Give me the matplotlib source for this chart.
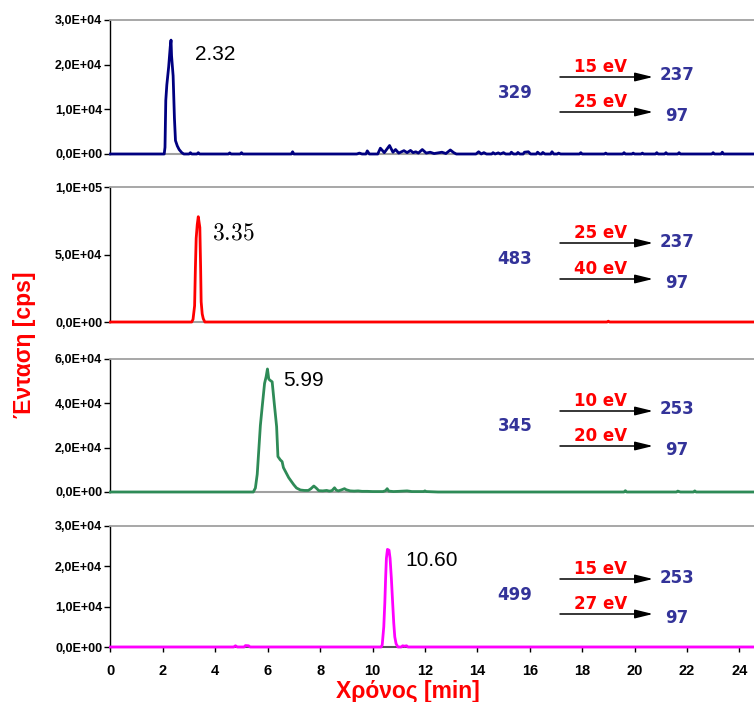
import matplotlib
matplotlib.use('Agg')
import matplotlib.pyplot as plt
from matplotlib.patches import FancyArrowPatch
from matplotlib.ticker import FuncFormatter, FixedLocator

plt.rcParams['font.family'] = ['Liberation Sans', 'DejaVu Sans']
plt.rcParams['mathtext.fontset'] = 'cm'

W, H = 754, 702

# χρωματογράμματα MRM (χρόνος σε min, ένταση σε cps)
t_329 = [0.0, 2.05, 2.08, 2.11, 2.15, 2.22, 2.28, 2.31, 2.33, 2.39, 2.44, 2.48, 2.55, 2.62, 2.72, 2.80,
         3.00, 3.05, 3.10, 3.30, 3.35, 3.40, 4.50, 4.55, 4.60, 4.95, 5.00, 5.05,
         6.90, 6.95, 7.00,
         9.40, 9.50, 9.60, 9.75, 9.80, 9.88, 10.20, 10.30, 10.45, 10.65, 10.78, 10.88, 11.00,
         11.20, 11.32, 11.45, 11.55, 11.65, 11.75, 11.90, 12.05, 12.20, 12.35, 12.65, 12.80,
         12.97, 13.10, 13.20,
         13.95, 14.05, 14.15, 14.25, 14.35, 14.55, 14.60, 14.68, 14.80, 14.88, 15.00, 15.08,
         15.25, 15.30, 15.38, 15.50, 15.55, 15.62, 15.75, 15.80, 15.95, 16.03,
         16.25, 16.30, 16.38, 16.45, 16.50, 16.58, 16.80, 16.85, 16.92, 17.05, 17.10, 17.18,
         17.90, 17.95, 18.00, 18.85, 18.90, 18.95, 19.55, 19.60, 19.65, 19.90, 19.95, 20.00,
         20.25, 20.30, 20.35, 20.80, 20.85, 20.90, 21.15, 21.20, 21.25, 21.65, 21.70, 21.75,
         22.95, 23.00, 23.05, 23.30, 23.35, 23.40, 24.6]
i_329 = [0, 0, 1500, 12000, 15500, 19500, 24000, 25500, 22000, 17500, 8000, 3000, 1800, 1000, 300, 0,
         0, 300, 0, 0, 300, 0, 0, 250, 0, 0, 300, 0,
         0, 500, 0,
         0, 200, 0, 0, 700, 0, 0, 1300, 300, 1900, 400, 1000, 200,
         750, 300, 800, 300, 500, 200, 1000, 200, 400, 100, 400, 100,
         900, 300, 0,
         0, 500, 0, 300, 0, 0, 300, 0, 250, 0, 300, 0,
         0, 400, 0, 0, 350, 0, 0, 400, 500, 0,
         0, 400, 0, 0, 350, 0, 0, 500, 0, 0, 200, 0,
         0, 300, 0, 0, 200, 0, 0, 300, 0, 0, 200, 0,
         0, 200, 0, 0, 300, 0, 0, 300, 0, 0, 300, 0,
         0, 300, 0, 0, 400, 0, 0]

t_483 = [0.0, 3.10, 3.15, 3.21, 3.24, 3.27, 3.31, 3.35, 3.38, 3.41, 3.44, 3.46, 3.50, 3.54, 3.60,
         18.95, 19.00, 19.05, 24.6]
i_483 = [0, 0, 2000, 12000, 40000, 62000, 72000, 78000, 74000, 70000, 40000, 15000, 6000, 2500, 0,
         0, 600, 0, 0]

t_345 = [0.0, 5.45, 5.53, 5.60, 5.66, 5.72, 5.79, 5.88, 5.94, 5.99, 6.04, 6.08, 6.17, 6.25, 6.34,
         6.39, 6.48, 6.55, 6.60, 6.68, 6.80, 6.92, 7.00, 7.10, 7.25, 7.40, 7.55, 7.65, 7.76, 7.85,
         7.95, 8.10, 8.25, 8.35, 8.45, 8.55, 8.62, 8.70, 8.80, 8.93, 9.00, 9.15, 9.30, 9.45, 9.60,
         9.80, 10.00, 10.40, 10.50, 10.56, 10.62, 10.80, 11.00, 11.32, 11.50, 11.95, 12.00, 12.05,
         12.50, 19.60, 19.65, 19.70, 21.60, 21.65, 21.75, 22.25, 22.30, 22.35, 24.6]
i_345 = [0, 0, 1800, 8000, 19000, 30000, 38500, 49000, 52000, 55500, 51000, 50500, 49700, 40000, 29500,
         16000, 14500, 13700, 11000, 9200, 6500, 4500, 3200, 1800, 900, 700, 700, 1500, 2700, 1800,
         600, 500, 700, 400, 600, 1900, 800, 500, 900, 1500, 1000, 500, 400, 500, 300,
         300, 200, 200, 600, 1500, 400, 200, 300, 500, 200, 200, 500, 200,
         0, 0, 600, 0, 0, 400, 0, 0, 500, 0, 0]

t_499 = [0.0, 4.70, 4.77, 4.84, 5.10, 5.15, 5.27, 5.33, 10.33, 10.37, 10.43, 10.47, 10.50, 10.53,
         10.57, 10.63, 10.67, 10.72, 10.76, 10.81, 10.85, 10.90, 10.97, 11.10, 11.15, 11.22, 11.30,
         11.35, 24.6]
i_499 = [0, 0, 300, 0, 0, 350, 300, 0, 0, 500, 5000, 11000, 17000, 22000,
         24200, 24000, 22000, 17000, 12000, 6000, 2500, 800, 0, 0, 300, 200, 300,
         0, 0]

traces = [(t_329, i_329), (t_483, i_483), (t_345, i_345), (t_499, i_499)]
colors = ['#000080', '#ff0000', '#2e8b57', '#ff00ff']
y_max = [30000, 100000, 60000, 30000]
y_ticks = [[0, 10000, 20000, 30000], [0, 50000, 100000],
           [0, 20000, 40000, 60000], [0, 10000, 20000, 30000]]
x_ticks = list(range(0, 25, 2))

peak_labels = ['2.32', r'$3.35$', '5.99', '10.60']
parents = ['329', '483', '345', '499']
energies = [('15 eV', '25 eV'), ('25 eV', '40 eV'), ('10 eV', '20 eV'), ('15 eV', '27 eV')]
products = [('237', '97'), ('237', '97'), ('253', '97'), ('253', '97')]

# θέσεις σε pixels (πάνω, κάτω όριο κάθε γραφήματος)
panel_px = [(20, 154), (187, 322), (359, 492), (526, 647)]
peak_px = [(195, 54), (212, 233), (283, 381), (405, 561)]
parent_y = [93, 259, 426, 595]
arrow_y = [(77, 112), (243, 279), (411, 446), (579, 614)]
prod_y = [(75, 116), (242, 283), (409, 450), (578, 618)]


def fx(x):
    return x / W


def fy(y):
    return 1 - y / H


def sci_comma(v, pos):
    return f'{v:.1E}'.replace('.', ',')


fig = plt.figure(figsize=(W / 100, H / 100), dpi=100)
x_left = 110.5
x_right = 24.56

for k in range(4):
    top, bot = panel_px[k]
    ax = fig.add_axes([fx(x_left), fy(bot), 1 - fx(x_left), (bot - top) / H])
    t, inten = traces[k]
    ax.plot(t, inten, color=colors[k], lw=2, solid_joinstyle='round', zorder=3, clip_on=False)
    ax.set_xlim(0, x_right)
    ax.set_ylim(0, y_max[k])
    ax.yaxis.set_major_locator(FixedLocator(y_ticks[k]))
    ax.yaxis.set_major_formatter(FuncFormatter(sci_comma))
    ax.tick_params(axis='y', direction='out', length=4, width=1, labelsize=9, pad=2)
    for lab in ax.get_yticklabels():
        lab.set_fontweight('bold')
    ax.spines['left'].set_color('black')
    ax.spines['left'].set_linewidth(1)
    ax.spines['top'].set_color('#a0a0a0')
    ax.spines['top'].set_linewidth(1.3)
    ax.spines['right'].set_visible(False)
    ax.spines['bottom'].set_color('#a0a0a0')
    ax.spines['bottom'].set_linewidth(1.5)
    if k < 3:
        ax.set_xticks([])
    else:
        ax.spines['bottom'].set_color('#555555')
        ax.set_xticks(x_ticks)
        ax.tick_params(axis='x', direction='out', length=3.6, width=1, labelsize=10.5, pad=8.5)
        for lab in ax.get_xticklabels():
            lab.set_fontweight('bold')

    # χρόνος κατακράτησης
    px, py = peak_px[k]
    size = 17 if k == 1 else 15
    fig.text(fx(px), fy(py), peak_labels[k], fontsize=size, color='black', ha='left', va='center')

    # μετάπτωση MRM: πρόδρομο -> θραύσματα
    fig.text(fx(515), fy(parent_y[k]), parents[k], fontsize=12, fontweight='bold',
             color='#333399', ha='center', va='center', family='DejaVu Sans')
    for j in range(2):
        ya = arrow_y[k][j]
        fig.patches.append(FancyArrowPatch(
            (fx(560), fy(ya)), (fx(653), fy(ya)), transform=fig.transFigure,
            arrowstyle='-|>,head_length=0.9,head_width=0.22', mutation_scale=12,
            color='black', lw=1.1, shrinkA=0, shrinkB=0))
        fig.text(fx(601), fy(ya - 1), energies[k][j], fontsize=12, fontweight='bold',
                 color='#ff0000', ha='center', va='bottom', family='DejaVu Sans')
        fig.text(fx(677), fy(prod_y[k][j]), products[k][j], fontsize=12, fontweight='bold',
                 color='#333399', ha='center', va='center', family='DejaVu Sans')

fig.text(fx(25), fy(345), 'Ένταση [cps]', rotation=90, fontsize=16.5, fontweight='bold',
         color='#ff0000', ha='center', va='center')
fig.text(fx(408), fy(698), 'Χρόνος [min]', fontsize=16.5, fontweight='bold',
         color='#ff0000', ha='center', va='baseline')

fig.savefig('out.png', dpi=100)
